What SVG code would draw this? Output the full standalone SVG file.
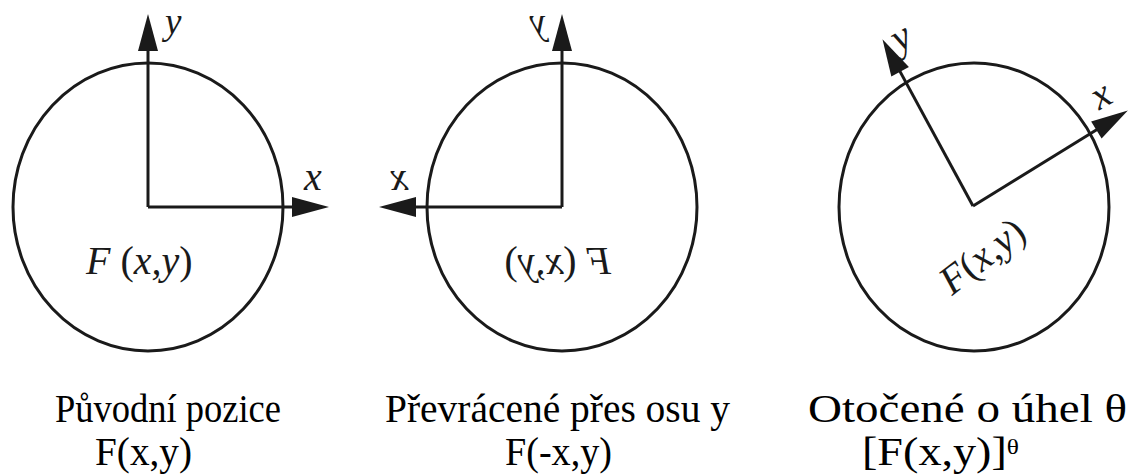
<svg xmlns="http://www.w3.org/2000/svg" width="1129" height="474" viewBox="0 0 1129 474">
<style>
.c{fill:none;stroke:#1a1a1a;stroke-width:3}
.ax{fill:none;stroke:#1a1a1a;stroke-width:3;marker-end:url(#ah)}
.lb{font-family:"Liberation Serif","Times New Roman",Times,serif;font-style:italic;font-size:40px;fill:#1a1a1a}
.ly{font-size:37px}
.up{font-style:normal}
.cap{font-family:"Liberation Serif","Times New Roman",Times,serif;font-size:40px;fill:#000}
</style>
<defs>
<marker id="ah" markerUnits="userSpaceOnUse" markerWidth="37" markerHeight="20" refX="16" refY="10" orient="auto" overflow="visible">
<path d="M0,0 L37,10 L0,20 Z" fill="#1a1a1a"/>
</marker>
</defs>
<rect width="1129" height="474" fill="#fff"/>
<g id="panel1">
<ellipse class="c" cx="148" cy="207" rx="135" ry="144"/>
<text class="lb ly" x="165" y="34">y</text>
<text class="lb" x="304" y="190">x</text>
<text class="lb" x="86" y="274">F <tspan class="up">(</tspan>x,y<tspan class="up">)</tspan></text>
</g>
<g id="panel2">
<ellipse class="c" cx="562" cy="207" rx="135" ry="144"/>
<text class="lb ly" transform="translate(546,34) scale(-1,1)">y</text>
<text class="lb" transform="translate(408,190) scale(-1,1)">x</text>
<text class="lb" transform="translate(611,274) scale(-1,1)">F <tspan class="up">(</tspan>x,y<tspan class="up">)</tspan></text>
</g>
<g id="panel3">
<ellipse class="c" cx="974" cy="207" rx="135" ry="144"/>
<text class="lb" text-anchor="middle" transform="translate(907,48) rotate(-30)">y</text>
<text class="lb" text-anchor="middle" transform="translate(1107,106) rotate(-30)">x</text>
<text class="lb" font-size="44" transform="translate(952,296) rotate(-38)">F<tspan class="up">(</tspan>x,y<tspan class="up">)</tspan></text>
</g>
<g id="connectors">
<line class="ax" x1="148" y1="207" x2="148" y2="35"/>
<line class="ax" x1="148" y1="207" x2="308" y2="207"/>
<line class="ax" x1="562" y1="207" x2="562" y2="35"/>
<line class="ax" x1="562" y1="207" x2="400" y2="207"/>
<line class="ax" x1="973" y1="206" x2="892.5" y2="57.6"/>
<line class="ax" x1="973" y1="206" x2="1110" y2="121.5"/>
</g>
<g id="captions">
<text class="cap" x="55" y="422" textLength="226" lengthAdjust="spacingAndGlyphs">Původní pozice</text>
<text class="cap" x="95" y="465" textLength="97" lengthAdjust="spacingAndGlyphs">F(x,y)</text>
<text class="cap" x="385" y="422" textLength="345" lengthAdjust="spacingAndGlyphs">Převrácené přes osu y</text>
<text class="cap" x="505" y="465" textLength="107" lengthAdjust="spacingAndGlyphs">F(-x,y)</text>
<text class="cap" x="808" y="422" textLength="319" lengthAdjust="spacingAndGlyphs">Otočené o úhel θ</text>
<text class="cap" x="862" y="465" textLength="157" lengthAdjust="spacingAndGlyphs">[F(x,y)]<tspan font-size="22" dy="-11">θ</tspan></text>
</g>
</svg>
